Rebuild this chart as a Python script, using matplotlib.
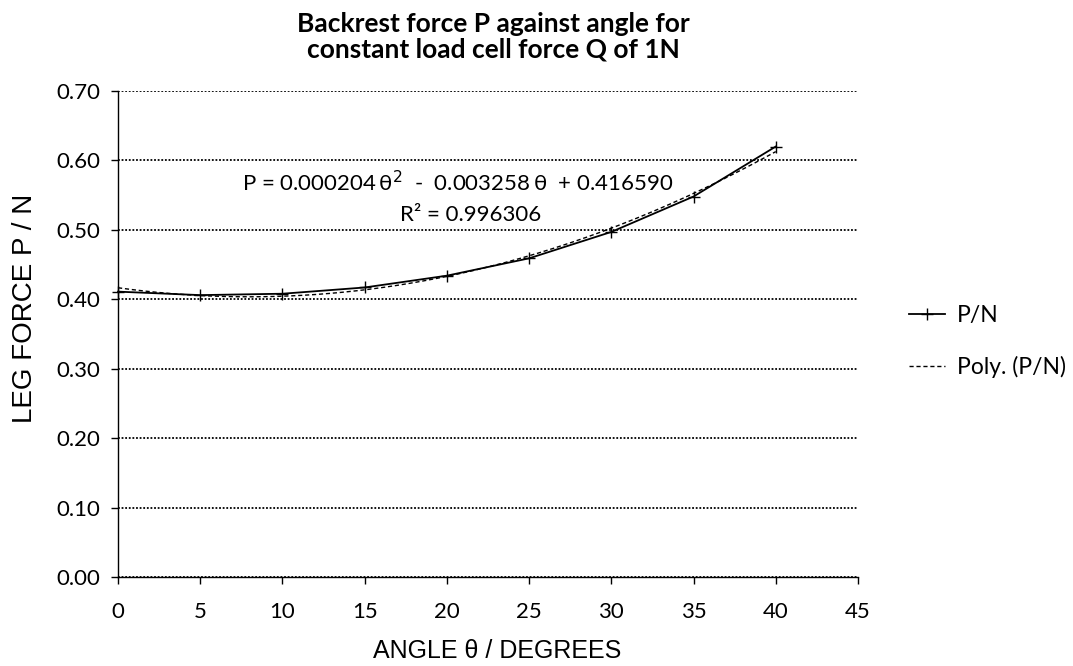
import matplotlib
matplotlib.use('Agg')
import matplotlib.pyplot as plt
import numpy as np

# measured backrest force vs angle
angles = [0, 5, 10, 15, 20, 25, 30, 35, 40]
force_p = [0.411, 0.406, 0.408, 0.417, 0.434, 0.459, 0.497, 0.548, 0.620]

# trendline coefficients as printed on the chart (a*θ² + b*θ + c)
poly_coefs = [0.000204, -0.003258, 0.416590]
r_squared = 0.996306

x_ticks = [0, 5, 10, 15, 20, 25, 30, 35, 40, 45]
y_ticks = [0.0, 0.1, 0.2, 0.3, 0.4, 0.5, 0.6, 0.7]

plt.rcParams['font.family'] = ['Lato', 'DejaVu Sans']

fig = plt.figure(figsize=(10.73, 6.66), dpi=100)
ax = fig.add_axes([0.110, 0.1336, 0.6896, 0.7298])

# data line with + markers
ax.plot(angles, force_p, color='black', lw=1.3, marker='+', ms=9, mew=1.0,
        label='P/N', zorder=3, clip_on=False)

# polynomial trendline
theta = np.linspace(angles[0], angles[-1], 200)
ax.plot(theta, np.polyval(poly_coefs, theta), color='black', lw=1.0,
        ls=(0, (3, 2)), label='Poly. (P/N)', zorder=2)

ax.set_xlim(0, 45)
ax.set_ylim(0, 0.70)
ax.set_xticks(x_ticks)
ax.set_yticks(y_ticks)
ax.set_yticklabels([f'{v:.2f}' for v in y_ticks])

ax.yaxis.grid(True, color='black', ls=(0, (1, 1)), lw=1.3)
ax.set_axisbelow(True)
for s in ['top', 'right']:
    ax.spines[s].set_visible(False)
for s in ['left', 'bottom']:
    ax.spines[s].set_linewidth(1.0)

ax.tick_params(axis='both', labelsize=16, length=5, width=1.0, direction='out')
ax.tick_params(axis='y', pad=8)
ax.tick_params(axis='x', pad=13)

ax.set_xlabel('ANGLE θ / DEGREES', family='Liberation Sans', fontsize=18)
ax.xaxis.set_label_coords(0.512, -0.1276)
ax.set_ylabel('LEG FORCE P / N', family='Liberation Sans', fontsize=20)
ax.yaxis.set_label_coords(-0.108, 0.553)

fig.text(0.4595, 0.982, 'Backrest force P against angle for\nconstant load cell force Q of 1N',
         ha='center', va='top', fontsize=19, fontweight='bold', linespacing=1.08)

eq = (f'P = {poly_coefs[0]:.6f}' + r'$\,\mathregular{\theta}^{2}$' +
      f'  -  {abs(poly_coefs[1]):.6f}' + r'$\,\mathregular{\theta}$' + f'  + {poly_coefs[2]:.6f}')
ax.text(20.68, 0.5675, eq, ha='center', va='center', fontsize=16)
ax.text(21.47, 0.521, f'R² = {r_squared:.6f}', ha='center', va='center', fontsize=16)

ax.legend(loc='center left', bbox_to_anchor=(0.828, 0.487), bbox_transform=fig.transFigure,
          frameon=False, fontsize=16.5, handlelength=1.57, handletextpad=0.52, labelspacing=1.3)

fig.savefig('out.png', dpi=100)
